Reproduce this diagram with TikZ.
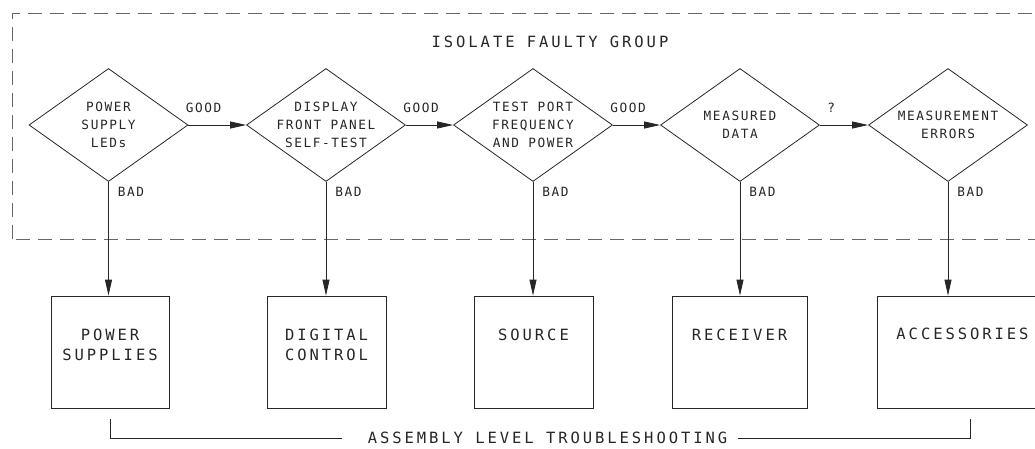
\documentclass[tikz,border=0pt]{standalone}
\usepackage{fontspec}
\usetikzlibrary{shapes.geometric,arrows.meta}
\newfontfamily\cadsmall{DejaVu Sans Mono}[LetterSpace=12.5]
\newfontfamily\cadbig{DejaVu Sans Mono}[LetterSpace=19]

\tikzset{
  line/.style={draw=black!85, line width=0.8pt},
  flow/.style={line, -{Triangle[length=16pt,width=7pt]}},
  frame/.style={draw=black!60, line width=0.8pt, dash pattern=on 14pt off 8pt},
  small/.style={font=\cadsmall\fontsize{12.75}{18}\selectfont, align=center, text=black!85},
  big/.style={font=\cadbig\fontsize{15.5}{20}\selectfont, align=center, text=black!85},
  test/.style={diamond, line, minimum width=159pt, minimum height=113pt, inner sep=0pt, aspect=1.4},
  unit/.style={rectangle, line, minimum height=112pt, inner sep=0pt},
  good/.style={small, pos=0, anchor=base west, inner sep=0pt, xshift=-3pt, yshift=12pt},
  bad/.style={small, pos=0, anchor=north west, inner sep=0pt, xshift=9pt, yshift=-5pt},
}

\begin{document}
\begin{tikzpicture}[x=1pt, y=1pt]
  \clip (0,0) rectangle (1035,448);
  \draw[frame] (12,209) rectangle (1060,435);
  \node[big] (title) at (550,406) {ISOLATE FAULTY GROUP};

  \node[test, label={[small]center:{POWER\\SUPPLY\\LEDs}}] (d1) at (108.5,323) {};
  \node[test, label={[small]center:{DISPLAY\\FRONT PANEL\\SELF-TEST}}] (d2) at (326,323) {};
  \node[test, label={[small]center:{TEST PORT\\FREQUENCY\\AND POWER}}] (d3) at (533,323) {};
  \node[test, label={[small]center:{MEASURED\\DATA}}] (d4) at (740,323) {};
  \node[test, label={[small]center:{MEASUREMENT\\ERRORS}}] (d5) at (948,323) {};

  \node[unit, minimum width=118pt, label={[big, anchor=north, yshift=-30pt]north:{POWER\\SUPPLIES}}] (b1) at (110,96) {};
  \node[unit, minimum width=119pt, label={[big, anchor=north, yshift=-30pt]north:{DIGITAL\\CONTROL}}] (b2) at (326.5,96) {};
  \node[unit, minimum width=119pt, label={[big, anchor=north, yshift=-30pt]north:SOURCE}] (b3) at (533.5,96) {};
  \node[unit, minimum width=135pt, label={[big, anchor=north, yshift=-30pt]north:RECEIVER}] (b4) at (739.5,96) {};
  \node[unit, minimum width=181pt, label={[big, anchor=north, yshift=-29pt, xshift=-5pt]north:ACCESSORIES}] (b5) at (967.5,96) {};

  \draw[flow] (d1.east) -- (d2.west) node[good] {GOOD};
  \draw[flow] (d2.east) -- (d3.west) node[good] {GOOD};
  \draw[flow] (d3.east) -- (d4.west) node[good] {GOOD};
  \draw[flow] (d4.east) -- (d5.west) node[good, xshift=10pt] {?};
  \foreach \d/\b in {d1/b1,d2/b2,d3/b3,d4/b4,d5/b5}
    \draw[flow] (\d.south) -- (\d.south |- \b.north) node[bad] {BAD};

  \node[big, inner sep=0pt] (asm) at (547.5,10) {ASSEMBLY LEVEL TROUBLESHOOTING};
  \draw[line] ([yshift=-11pt]b1.south) |- ([xshift=-26pt]asm.west);
  \draw[line] ([xshift=2.5pt,yshift=-11pt]b5.south) |- ([xshift=11pt]asm.east);
\end{tikzpicture}
\end{document}
